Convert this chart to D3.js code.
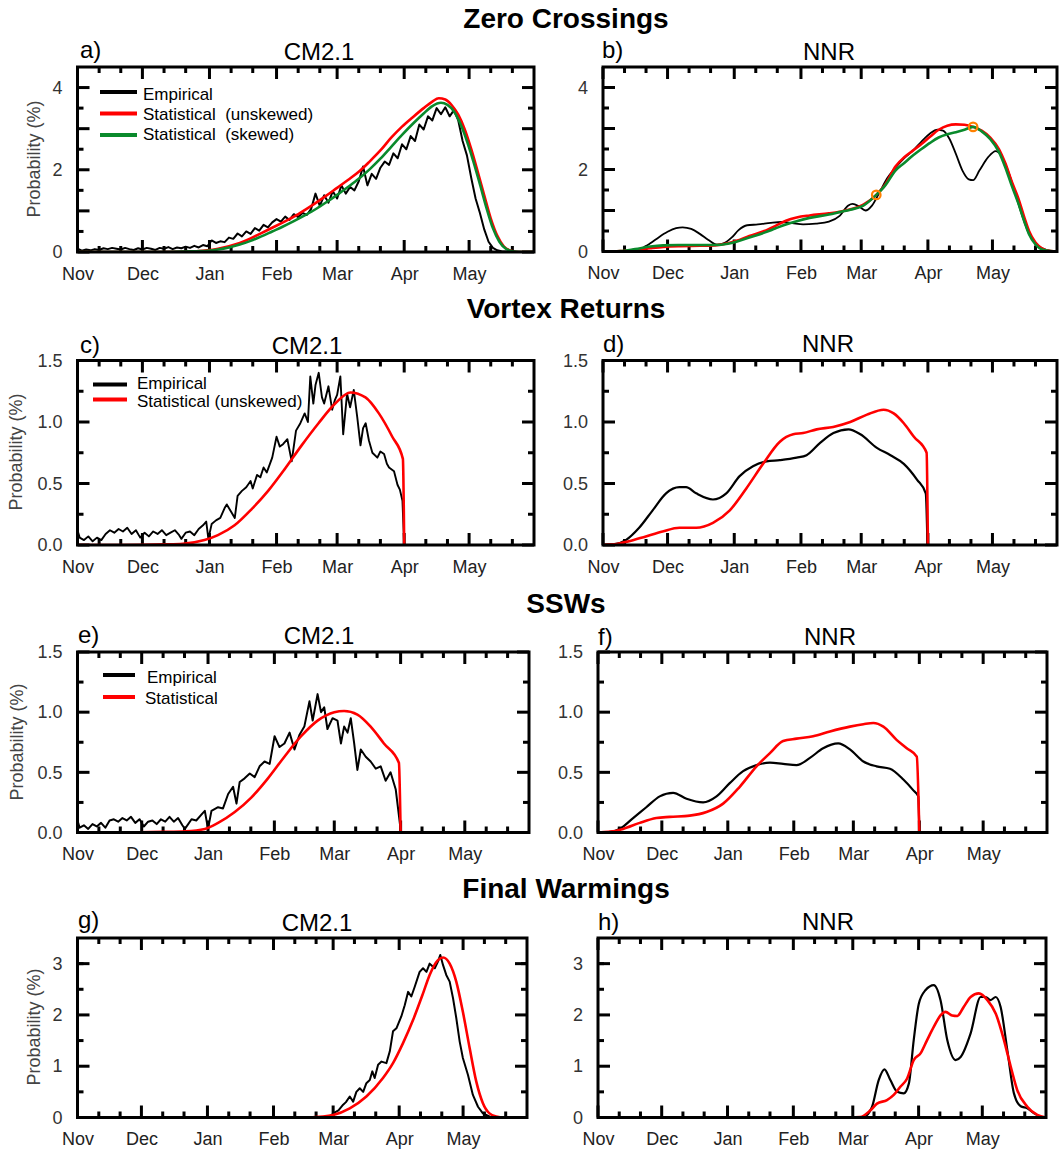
<!DOCTYPE html>
<html>
<head>
<meta charset="utf-8">
<script src="https://cdn.jsdelivr.net/npm/d3@7"></script>
<style>
  body { margin: 0; background: #fff; }
  text { font-family: "Liberation Sans", Arial, Helvetica, sans-serif; }
</style>
</head>
<body>
<svg id="fig" width="1063" height="1149"></svg>
<script>
// Season axis: days counted from 1 November
const months = ["Nov", "Dec", "Jan", "Feb", "Mar", "Apr", "May"];
const monthStart = [0, 30, 61, 92, 120, 151, 181];
const minorTickDays = [10, 20, 40, 50, 71, 81, 102, 112, 130, 140, 161, 171, 191, 201];
const seasonEnd = 211;

// ---------- Zero crossings ----------
const zcCmEmpirical = [[0,0.08],[2,0.03],[4,0.06],[6,0.04],[8,0.07],[10,0.05],[12,0.09],[14,0.07],[16,0.1],[18,0.08],[20,0.06],[22,0.1],[24,0.07],[26,0.05],[28,0.09],[30,0.06],[32,0.1],[34,0.08],[36,0.05],[38,0.1],[40,0.08],[42,0.12],[44,0.07],[46,0.11],[48,0.09],[50,0.13],[52,0.1],[54,0.15],[56,0.11],[58,0.17],[60,0.14],[62,0.28],[64,0.22],[66,0.26],[68,0.24],[70,0.35],[72,0.32],[74,0.45],[76,0.38],[78,0.5],[80,0.44],[82,0.58],[84,0.52],[86,0.66],[88,0.6],[90,0.72],[92,0.8],[94,0.74],[96,0.86],[98,0.78],[100,0.92],[102,0.85],[104,0.95],[106,0.9],[108,1.05],[110,1.42],[112,1.12],[114,1.38],[116,1.2],[118,1.48],[120,1.3],[122,1.62],[124,1.42],[126,1.58],[128,1.5],[130,1.72],[132,2.08],[134,1.62],[136,1.9],[138,1.78],[140,2.05],[142,2.2],[144,2.12],[146,2.4],[148,2.28],[150,2.62],[152,2.5],[154,2.82],[156,2.7],[158,3.1],[160,2.98],[162,3.3],[164,3.2],[166,3.5],[168,3.35],[170,3.52],[172,3.3],[174,3.45],[176,3.2],[178,2.7],[180,2.35],[182,1.8],[184,1.3],[186,0.95],[188,0.55],[190,0.25],[192,0.1],[194,0.04],[196,0.02],[198,0.01],[200,0],[211,0]];
const zcCmUnskewed = [[0,0],[40,0],[55,0.02],[60,0.04],[65,0.08],[70,0.14],[75,0.22],[80,0.33],[85,0.46],[90,0.59],[95,0.72],[100,0.86],[105,1.02],[110,1.19],[115,1.37],[120,1.56],[125,1.75],[130,1.95],[135,2.2],[140,2.47],[145,2.78],[150,3.05],[155,3.28],[160,3.5],[164,3.66],[167,3.74],[170,3.71],[173,3.57],[176,3.34],[179,2.98],[182,2.5],[185,1.95],[188,1.38],[191,0.82],[194,0.4],[197,0.14],[200,0.04],[204,0],[211,0]];
const zcCmSkewed = [[0,0],[40,0],[55,0.02],[60,0.03],[65,0.06],[70,0.11],[75,0.18],[80,0.27],[85,0.38],[90,0.5],[95,0.62],[100,0.75],[105,0.89],[110,1.04],[115,1.21],[120,1.39],[125,1.58],[130,1.78],[135,2.01],[140,2.27],[145,2.56],[150,2.85],[155,3.12],[160,3.37],[164,3.55],[168,3.63],[171,3.58],[174,3.42],[177,3.12],[180,2.7],[183,2.2],[186,1.65],[189,1.08],[192,0.58],[195,0.25],[198,0.08],[201,0.02],[205,0],[211,0]];

const zcNnrEmpirical = [[0,0],[10,0.01],[15,0.04],[18,0.08],[22,0.2],[26,0.35],[30,0.48],[34,0.57],[37,0.59],[41,0.55],[45,0.43],[49,0.28],[53,0.17],[56,0.2],[60,0.35],[63,0.52],[67,0.64],[72,0.66],[78,0.7],[83,0.72],[88,0.69],[93,0.66],[99,0.68],[105,0.73],[110,0.87],[114,1.12],[116,1.16],[119,1.1],[122,1.0],[125,1.12],[128.6,1.45],[132,1.78],[136,2.05],[140,2.28],[144,2.46],[148,2.68],[152,2.88],[155.5,2.97],[158,2.95],[161,2.75],[164,2.38],[167,1.98],[170,1.76],[172,1.74],[175,1.98],[179,2.3],[182.5,2.45],[185,2.35],[188.7,1.9],[192,1.35],[195,0.85],[198,0.43],[202,0.15],[206,0.04],[211,0]];
const zcNnrUnskewed = [[0,0],[8,0.01],[15,0.04],[22,0.08],[28,0.11],[35,0.13],[45,0.14],[52,0.15],[58,0.2],[62,0.26],[68,0.38],[75,0.5],[80,0.62],[85,0.75],[90,0.83],[96,0.88],[105,0.93],[110,0.97],[115,1.03],[121,1.14],[127,1.38],[131,1.62],[136,2.08],[140,2.3],[144,2.46],[148,2.62],[152,2.8],[156,2.97],[160,3.07],[164,3.1],[168,3.09],[172,3.04],[176,2.95],[180,2.78],[184,2.5],[187,2.15],[190,1.7],[193,1.3],[196,0.8],[198,0.5],[201,0.22],[204,0.08],[208,0.01],[211,0]];
const zcNnrSkewed = [[0,0],[8,0.01],[15,0.06],[22,0.12],[28,0.15],[35,0.16],[45,0.16],[52,0.16],[58,0.19],[62,0.24],[68,0.34],[75,0.46],[80,0.56],[85,0.66],[90,0.74],[96,0.82],[105,0.9],[110,0.96],[115,1.02],[121,1.12],[127,1.38],[131,1.6],[136,1.98],[140,2.16],[144,2.34],[148,2.5],[152,2.65],[156,2.78],[160,2.86],[164,2.91],[168,2.97],[172,3.04],[176,2.93],[180,2.74],[184,2.43],[187,2.05],[190,1.6],[193,1.18],[196,0.7],[198,0.42],[201,0.17],[204,0.05],[208,0.01],[211,0]];
const zcNnrMarkers = [[127, 1.38], [172, 3.04]];

// ---------- Vortex returns ----------
const vrCmEmpirical = [[0,0.12],[1,0.06],[3,0.04],[5,0.07],[7,0.03],[9,0.06],[11,0.04],[13,0.09],[15,0.12],[17,0.1],[19,0.13],[21,0.11],[23,0.14],[25,0.09],[27,0.12],[29,0.06],[31,0.1],[33,0.07],[35,0.11],[37,0.09],[39,0.12],[41,0.08],[43,0.1],[45,0.12],[47,0.08],[48,0.05],[50,0.1],[52,0.11],[54,0.08],[56,0.13],[58,0.16],[59.5,0.19],[60.5,0.05],[62,0.17],[64,0.2],[66,0.22],[68,0.3],[69,0.33],[71,0.27],[72.7,0.22],[74,0.4],[76,0.44],[78,0.47],[80,0.52],[81,0.46],[83,0.57],[84.5,0.55],[86,0.63],[87.5,0.59],[90,0.71],[92,0.88],[93.5,0.8],[95,0.82],[97,0.86],[99,0.68],[101,0.93],[103,0.99],[105,1.07],[106.5,1.0],[107.6,1.37],[109,1.15],[110,1.3],[111.5,1.4],[113,1.2],[114,1.15],[116,1.29],[117.7,1.1],[119,1.18],[120,1.22],[121.5,1.37],[122.8,0.9],[124.6,1.23],[126,1.12],[127.7,1.26],[129.3,1.04],[130.8,0.81],[132,0.95],[133.2,0.99],[134.7,0.85],[136.3,0.75],[138.6,0.71],[140,0.76],[141.7,0.74],[143,0.66],[144,0.63],[146.3,0.6],[147.9,0.49],[149,0.45],[150.2,0.36],[151,0]];
const vrCmUnskewed = [[0,0],[20,0],[40,0.005],[48.7,0.01],[58.7,0.04],[64.9,0.08],[72.6,0.16],[80.4,0.29],[88.1,0.44],[95.9,0.62],[103.6,0.81],[111.4,0.99],[119.1,1.15],[126.1,1.24],[133.1,1.2],[139.3,1.07],[145.5,0.88],[150.4,0.7],[151,0]];
const vrNnrEmpirical = [[0,0],[5,0.005],[10.6,0.04],[16.8,0.14],[23,0.28],[29.3,0.42],[35.5,0.47],[38.6,0.47],[43.3,0.42],[51.1,0.37],[57.3,0.42],[63.5,0.56],[69.7,0.64],[76,0.68],[82.2,0.69],[90,0.71],[94.6,0.73],[100.9,0.83],[107.1,0.91],[114.1,0.94],[119.6,0.9],[127.3,0.79],[133.6,0.73],[139.8,0.66],[146,0.53],[150,0.42],[150.8,0]];
const vrNnrUnskewed = [[0,0],[5,0.005],[12.1,0.03],[19.9,0.07],[27.7,0.11],[35.5,0.14],[43.3,0.14],[51.1,0.18],[58.8,0.28],[66.6,0.46],[74.4,0.66],[82.2,0.84],[88.4,0.9],[93,0.91],[99.3,0.94],[107,0.96],[114.9,1.0],[122.7,1.06],[130.4,1.1],[135.1,1.07],[139.8,0.99],[144.5,0.88],[150.4,0.75],[151,0]];

// ---------- SSWs ----------
const sswCmEmpirical = [[0,0.1],[1,0.04],[3,0.06],[5,0.03],[7,0.07],[9,0.05],[11,0.08],[13,0.04],[15,0.1],[17,0.11],[19,0.09],[21,0.12],[23,0.1],[25,0.13],[27,0.08],[29,0.11],[31,0.05],[33,0.09],[35,0.1],[37,0.07],[39,0.11],[41,0.09],[43,0.13],[45,0.09],[47,0.12],[49,0.06],[50.2,0.03],[53.3,0.11],[55.5,0.1],[58,0.15],[59.5,0.18],[61,0.03],[62.6,0.18],[65.7,0.21],[68,0.2],[70.4,0.32],[72.7,0.38],[74.3,0.24],[75.8,0.42],[78.1,0.45],[80.5,0.49],[82.8,0.46],[85.1,0.55],[87.4,0.59],[89.8,0.57],[92.1,0.8],[94.4,0.71],[96.7,0.74],[99.1,0.83],[101.4,0.69],[103.7,0.81],[106,0.88],[108.4,1.09],[109.9,0.93],[112.2,1.15],[113.8,1.0],[115.3,1.04],[116.8,0.86],[119.2,0.95],[121.5,0.93],[123.1,0.74],[124.6,0.88],[126.2,0.83],[127.7,0.95],[129.3,0.74],[130.8,0.52],[132.4,0.69],[134.7,0.63],[137,0.59],[139.4,0.53],[141.7,0.55],[144,0.43],[146.3,0.5],[148.7,0.36],[150.7,0.07],[151,0]];
const sswCmStatistical = [[0,0],[20,0],[40,0.005],[50.2,0.01],[59.5,0.03],[65.7,0.08],[73.5,0.17],[81.2,0.29],[89,0.45],[96.7,0.63],[104.5,0.8],[112.2,0.93],[120,1.0],[124.6,1.01],[130.8,0.98],[137,0.88],[143.2,0.74],[150.2,0.58],[151,0]];
const sswNnrEmpirical = [[0,0],[5,0.003],[10.2,0.03],[16.5,0.12],[22.7,0.21],[29,0.3],[35.3,0.33],[41.6,0.28],[49.4,0.25],[55.7,0.3],[61.9,0.41],[68.2,0.51],[74.5,0.56],[80.8,0.58],[87,0.57],[93.3,0.56],[99.6,0.62],[105.8,0.7],[112.9,0.74],[118.4,0.69],[124.7,0.59],[130.9,0.55],[137.2,0.53],[143.5,0.44],[148.2,0.35],[150.5,0.3],[151,0]];
const sswNnrStatistical = [[0,0],[5,0.005],[11.8,0.03],[19.6,0.08],[27.4,0.12],[33.7,0.13],[43.1,0.14],[51,0.17],[58.8,0.24],[66.6,0.38],[74.5,0.55],[80.8,0.66],[87,0.76],[93.3,0.78],[101.1,0.8],[109,0.84],[118.4,0.88],[124.7,0.9],[129.4,0.91],[134.1,0.88],[140.3,0.77],[145.1,0.7],[149.8,0.63],[151,0]];

// ---------- Final warmings ----------
const fwCmEmpirical = [[0,0],[110,0],[115.3,0],[118.4,0.02],[120.8,0.1],[122.5,0.14],[124.7,0.25],[126,0.3],[127.8,0.41],[129.4,0.31],[130.9,0.5],[132.5,0.57],[134.1,0.5],[135.6,0.67],[137.2,0.73],[138.4,0.9],[139.5,0.77],[141.1,1.03],[142.7,1.09],[145,1.06],[146.6,1.29],[148.1,1.68],[149.7,1.74],[152,1.97],[153.6,2.19],[155.2,2.45],[156.7,2.36],[158.3,2.55],[160.6,2.84],[162.2,2.91],[163.8,2.84],[165.3,3.0],[167.7,2.91],[169.2,3.04],[170.3,3.17],[171.6,2.97],[173.1,2.78],[174.7,2.65],[176.3,2.32],[177.8,1.94],[179.4,1.48],[180.9,1.16],[183.3,0.83],[185.6,0.44],[188,0.21],[190.3,0.08],[193.4,0.02],[196,0],[211,0]];
const fwCmStatistical = [[0,0],[105,0],[115.3,0.02],[120,0.05],[127.8,0.18],[135.6,0.41],[143.4,0.77],[148.1,1.06],[152.8,1.45],[157.5,1.9],[162.2,2.42],[165.3,2.78],[169.2,3.07],[171.6,3.12],[174.7,3.0],[177.8,2.65],[180.9,2.06],[184.1,1.35],[187.2,0.7],[190.3,0.28],[193.4,0.08],[196.6,0.02],[200,0],[211,0]];
const fwNnrEmpirical = [[0,0],[114,0],[125,0.01],[129,0.2],[132.2,0.73],[134.9,0.94],[137.7,0.73],[140.9,0.5],[144,0.47],[146.4,0.66],[148.7,1.51],[151.1,2.22],[154.2,2.48],[158.2,2.58],[161.3,2.29],[164.5,1.51],[168.4,1.12],[170.8,1.18],[175.5,1.64],[180.2,2.35],[182.6,2.35],[184.9,2.29],[187.3,2.35],[189.6,2.16],[192.8,1.31],[195.9,0.47],[199.1,0.22],[202.2,0.18],[205.4,0.08],[210.1,0],[211,0]];
const fwNnrStatistical = [[0,0],[114,0],[123.5,0.01],[128.3,0.14],[131.4,0.27],[136.1,0.34],[139.3,0.44],[142.4,0.6],[145.6,0.76],[148.7,1.12],[151.9,1.25],[155,1.51],[158.2,1.77],[161.3,1.99],[163.7,2.06],[166.8,1.99],[169.2,1.98],[172.3,2.16],[175.5,2.35],[179.4,2.42],[183.4,2.29],[187.3,2.03],[191.2,1.51],[194.4,0.99],[197.5,0.53],[202.2,0.21],[206.9,0.05],[210.9,0]];

// ---------- Y axis tick sets ----------
const yTicksZero = { max: 4.5, major: [0,1,2,3,4], minor: [0.5,1.5,2.5,3.5], labels: [0,2,4], fmt: d3.format("d") };
const yTicksEvents = { max: 1.5, major: [0,0.5,1,1.5], minor: [0.25,0.75,1.25], labels: [0,0.5,1,1.5], fmt: d3.format(".1f") };
const yTicksFinal = { max: 3.5, major: [0,1,2,3], minor: [0.5,1.5,2.5,3], labels: [0,1,2,3], fmt: d3.format("d") };

const colors = { empirical: "#000000", unskewed: "#ff0000", skewed: "#0a8a2c", marker: "#ff8000" };
const tickStyle = { color: "#000", majorLen: 12, minorLen: 6, width: 3 };

const rowTitles = [
  { text: "Zero Crossings", y: 28 },
  { text: "Vortex Returns", y: 318 },
  { text: "SSWs", y: 613 },
  { text: "Final Warmings", y: 898 }
];

const panels = [
  { tag: "a)", name: "CM2.1", box: {left: 77.5, right: 534, top: 67, bottom: 252}, yt: yTicksZero, tagX: 80, tagY: 58, nameX: 319, nameY: 60, yTitle: {x: 35, y: 159},
    series: [{d: zcCmEmpirical, c: "empirical", w: 2, smooth: false}, {d: zcCmUnskewed, c: "unskewed", w: 2.6, smooth: true}, {d: zcCmSkewed, c: "skewed", w: 2.6, smooth: true}],
    legend: {x0: 100, x1: 137, tx: 143, rows: [{c: "empirical", ly: 92, ty: 100, label: "Empirical"}, {c: "unskewed", ly: 113.5, ty: 119.5, label: "Statistical  (unskewed)"}, {c: "skewed", ly: 135, ty: 140, label: "Statistical  (skewed)"}]} },
  { tag: "b)", name: "NNR", box: {left: 603, right: 1057, top: 67, bottom: 251.5}, yt: yTicksZero, tagX: 602, tagY: 58, nameX: 829, nameY: 60,
    series: [{d: zcNnrEmpirical, c: "empirical", w: 1.8, smooth: true}, {d: zcNnrUnskewed, c: "unskewed", w: 2.6, smooth: true}, {d: zcNnrSkewed, c: "skewed", w: 2.6, smooth: true}],
    markers: zcNnrMarkers },
  { tag: "c)", name: "CM2.1", box: {left: 77.5, right: 534, top: 360.5, bottom: 545}, yt: yTicksEvents, tagX: 80, tagY: 353, nameX: 307, nameY: 354, yTitle: {x: 17, y: 452},
    series: [{d: vrCmEmpirical, c: "empirical", w: 1.9, smooth: false}, {d: vrCmUnskewed, c: "unskewed", w: 2.6, smooth: true}],
    legend: {x0: 93, x1: 127, tx: 137, rows: [{c: "empirical", ly: 384.5, ty: 388.5, label: "Empirical"}, {c: "unskewed", ly: 399.5, ty: 406.5, label: "Statistical (unskewed)"}]} },
  { tag: "d)", name: "NNR", box: {left: 603, right: 1057, top: 360.5, bottom: 545}, yt: yTicksEvents, tagX: 603, tagY: 352, nameX: 828, nameY: 352,
    series: [{d: vrNnrEmpirical, c: "empirical", w: 2.2, smooth: true}, {d: vrNnrUnskewed, c: "unskewed", w: 2.6, smooth: true}] },
  { tag: "e)", name: "CM2.1", box: {left: 77.5, right: 529, top: 652, bottom: 832.5}, yt: yTicksEvents, tagX: 78, tagY: 643, nameX: 319, nameY: 644, yTitle: {x: 18, y: 742},
    series: [{d: sswCmEmpirical, c: "empirical", w: 2, smooth: false}, {d: sswCmStatistical, c: "unskewed", w: 2.6, smooth: true}],
    legend: {x0: 103, x1: 135, tx: 147, rows: [{c: "empirical", ly: 675, ty: 683, label: "Empirical"}, {c: "unskewed", ly: 697, ty: 704, label: "Statistical", tx: 145}]} },
  { tag: "f)", name: "NNR", box: {left: 598, right: 1047, top: 652, bottom: 832.5}, yt: yTicksEvents, tagX: 598, tagY: 645, nameX: 830, nameY: 645,
    series: [{d: sswNnrEmpirical, c: "empirical", w: 2.2, smooth: true}, {d: sswNnrStatistical, c: "unskewed", w: 2.6, smooth: true}] },
  { tag: "g)", name: "CM2.1", box: {left: 77.5, right: 527, top: 938, bottom: 1117.5}, yt: yTicksFinal, tagX: 78, tagY: 928, nameX: 317, nameY: 931, yTitle: {x: 35, y: 1027},
    series: [{d: fwCmEmpirical, c: "empirical", w: 2, smooth: false}, {d: fwCmStatistical, c: "unskewed", w: 2.6, smooth: true}] },
  { tag: "h)", name: "NNR", box: {left: 598, right: 1046, top: 938, bottom: 1117.5}, yt: yTicksFinal, tagX: 598, tagY: 930, nameX: 828, nameY: 930,
    series: [{d: fwNnrEmpirical, c: "empirical", w: 2.2, smooth: true}, {d: fwNnrStatistical, c: "unskewed", w: 2.6, smooth: true}] }
];

const svg = d3.select("#fig");

// Row headings
svg.selectAll("text.row-title").data(rowTitles).join("text")
  .attr("class", "row-title")
  .attr("x", 566).attr("y", d => d.y)
  .attr("text-anchor", "middle")
  .attr("font-size", 28).attr("font-weight", "bold").attr("fill", "#000")
  .text(d => d.text);

const scalesFor = p => ({
  x: d3.scaleLinear().domain([0, seasonEnd]).range([p.box.left, p.box.right]),
  y: d3.scaleLinear().domain([0, p.yt.max]).range([p.box.bottom, p.box.top])
});

// Inward tick marks on all four sides of every panel
panels.forEach(p => {
  const b = p.box;
  const { x, y } = scalesFor(p);
  const tg = svg.append("g").attr("class", "tickmarks").attr("fill", tickStyle.color);
  const tw = tickStyle.width;
  monthStart.map(d => [d, tickStyle.majorLen]).concat(minorTickDays.map(d => [d, tickStyle.minorLen])).forEach(([d, len]) => {
    tg.append("rect").attr("x", x(d) - tw / 2).attr("y", b.bottom - len).attr("width", tw).attr("height", len);
    tg.append("rect").attr("x", x(d) - tw / 2).attr("y", b.top).attr("width", tw).attr("height", len);
  });
  p.yt.major.map(v => [v, tickStyle.majorLen]).concat(p.yt.minor.map(v => [v, tickStyle.minorLen])).forEach(([v, len]) => {
    tg.append("rect").attr("x", b.left).attr("y", y(v) - tw / 2).attr("width", len).attr("height", tw);
    tg.append("rect").attr("x", b.right - len).attr("y", y(v) - tw / 2).attr("width", len).attr("height", tw);
  });
});

// Curves, labels and legends
panels.forEach((p, i) => {
  const b = p.box;
  const { x, y } = scalesFor(p);
  const g = svg.append("g");

  const clipId = "clip" + i;
  svg.append("defs").append("clipPath").attr("id", clipId).append("rect")
    .attr("x", b.left).attr("y", b.top - 4).attr("width", b.right - b.left).attr("height", b.bottom - b.top + 4);

  const plot = g.append("g").attr("clip-path", `url(#${clipId})`);
  p.series.forEach(s => {
    const line = d3.line().x(d => x(d[0])).y(d => y(d[1]))
      .curve(s.smooth ? d3.curveMonotoneX : d3.curveLinear);
    plot.append("path").datum(s.d)
      .attr("d", line)
      .attr("fill", "none")
      .attr("stroke", colors[s.c])
      .attr("stroke-width", s.w)
      .attr("stroke-linejoin", "round");
  });
  if (p.markers) {
    plot.selectAll("circle.mk").data(p.markers).join("circle")
      .attr("class", "mk")
      .attr("cx", d => x(d[0])).attr("cy", d => y(d[1])).attr("r", 4.3)
      .attr("fill", "none").attr("stroke", colors.marker).attr("stroke-width", 2.2);
  }

  // tick labels
  g.append("g").attr("transform", `translate(0,${b.bottom})`)
    .call(d3.axisBottom(x).tickValues(monthStart).tickFormat((d, k) => months[k]).tickSize(0).tickPadding(15))
    .call(a => a.select(".domain").remove())
    .attr("font-size", 18).attr("font-family", null)
    .call(a => a.selectAll(".tick text").attr("fill", "#222"));
  g.append("g").attr("transform", `translate(${b.left},0)`)
    .call(d3.axisLeft(y).tickValues(p.yt.labels).tickFormat(p.yt.fmt).tickSize(0).tickPadding(15))
    .call(a => a.select(".domain").remove())
    .attr("font-size", 18).attr("font-family", null)
    .call(a => a.selectAll(".tick text").attr("fill", "#333"));

  // frame
  g.append("rect")
    .attr("x", b.left).attr("y", b.top)
    .attr("width", b.right - b.left).attr("height", b.bottom - b.top)
    .attr("fill", "none").attr("stroke", "#000").attr("stroke-width", 3);

  // panel tag and source name
  g.append("text").attr("x", p.tagX).attr("y", p.tagY)
    .attr("font-size", 24).attr("fill", "#000").text(p.tag);
  g.append("text").attr("x", p.nameX).attr("y", p.nameY)
    .attr("text-anchor", "middle").attr("font-size", 24).attr("fill", "#000").text(p.name);

  if (p.yTitle) {
    g.append("text")
      .attr("transform", `translate(${p.yTitle.x},${p.yTitle.y}) rotate(-90)`)
      .attr("text-anchor", "middle").attr("dominant-baseline", "middle")
      .attr("font-size", 18).attr("fill", "#444")
      .text("Probability (%)");
  }

  if (p.legend) {
    const L = p.legend;
    const lg = g.append("g");
    L.rows.forEach(r => {
      lg.append("line").attr("x1", L.x0).attr("x2", L.x1).attr("y1", r.ly).attr("y2", r.ly)
        .attr("stroke", colors[r.c]).attr("stroke-width", 4);
      lg.append("text").attr("x", r.tx || L.tx).attr("y", r.ty)
        .attr("font-size", 17).attr("fill", "#000")
        .style("white-space", "pre")
        .text(r.label);
    });
  }
});
</script>
</body>
</html>
